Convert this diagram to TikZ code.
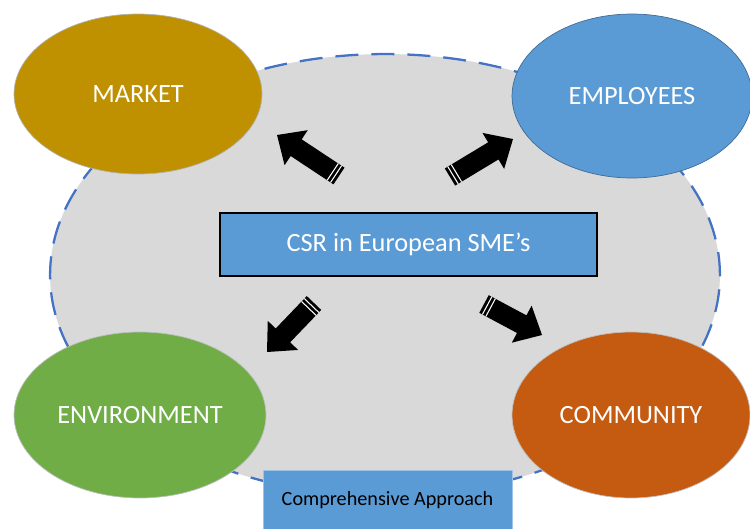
\documentclass[tikz,border=0pt]{standalone}
\usepackage{fontspec}
\setmainfont{Carlito}
\usepackage{tikz}
\usetikzlibrary{shapes.geometric}
\usetikzlibrary{calc}

\definecolor{csrgray}{HTML}{D9D9D9}
\definecolor{csrdash}{HTML}{4472C4}
\definecolor{csrgold}{HTML}{BF9000}
\definecolor{csrblue}{HTML}{5B9BD5}
\definecolor{csrgreen}{HTML}{70AD47}
\definecolor{csrorange}{HTML}{C55A11}

% block arrow with two stripes at the tail, from #1 to #2
\newcommand{\stripedarrow}[2]{%
  \coordinate (hb) at ($(#2)!0.46cm!(#1)$);
  \fill[black] ($(#1)!0.2cm!90:(#2)$) -- ($(hb)!0.2cm!90:(#2)$) -- ($(hb)!0.42cm!90:(#2)$)
    -- (#2) -- ($(hb)!0.42cm!-90:(#2)$) -- ($(hb)!0.2cm!-90:(#2)$) -- ($(#1)!0.2cm!-90:(#2)$) -- cycle;
  \coordinate (s1) at ($(#1)!0.07cm!(#2)$);
  \coordinate (s2) at ($(#1)!0.15cm!(#2)$);
  \draw[white, line width=0.6pt] ($(s1)!0.2cm!90:(#2)$) -- ($(s1)!0.2cm!-90:(#2)$);
  \draw[white, line width=0.6pt] ($(s2)!0.2cm!90:(#2)$) -- ($(s2)!0.2cm!-90:(#2)$);
}

\begin{document}
\begin{tikzpicture}[x=0.02cm, y=-0.02cm,
    bubble/.style={ellipse, inner sep=0pt, text=white, font=\fontsize{15}{18}\selectfont},
    csr box/.style={rectangle, inner sep=0pt, fill=csrblue}]
			\useasboundingbox (0,0) rectangle (750,528);
			\clip (0,0) rectangle (750,528);
			
			% Background
			\node[ellipse, inner sep=0pt, fill=csrgray, draw=csrdash, line width=1.3pt, dash pattern=on 0.46cm off 0.26cm,
			  minimum width=13.4cm, minimum height=8.84cm] (field) at (385,275) {};
			
			% Nodes
			\node[bubble, fill=csrgold, draw=gray!60, minimum width=4.96cm, minimum height=3.2cm] (market) at (138,94) {MARKET};
			\node[bubble, fill=csrblue, draw=csrblue!70!black, minimum width=4.8cm, minimum height=3.28cm] (employees) at (632,96) {EMPLOYEES};
			\node[bubble, fill=csrgreen, draw=gray!50, minimum width=5.04cm, minimum height=3.32cm] (environment) at (140,415) {ENVIRONMENT};
			\node[bubble, fill=csrorange, draw=gray!50, minimum width=4.76cm, minimum height=3.32cm] (community) at (631,415) {COMMUNITY};
			
			\node[csr box, draw=black, line width=1.2pt, minimum width=7.54cm, minimum height=1.26cm,
			  text=white, font=\fontsize{15}{18}\selectfont] (csr) at (408.5,244.5) {CSR in European SME’s};
			
			% Arrows
			\coordinate (mk tail) at (339,176);
			\coordinate (mk tip) at (277,135);
			\coordinate (em tail) at (450,177);
			\coordinate (em tip) at (513,139);
			\coordinate (en tail) at (314,303);
			\coordinate (en tip) at (267,352);
			\coordinate (co tail) at (484,304);
			\coordinate (co tip) at (542,335);
			
			\stripedarrow{mk tail}{mk tip}
			\stripedarrow{em tail}{em tip}
			\stripedarrow{en tail}{en tip}
			\stripedarrow{co tail}{co tip}
			
			\node[csr box, draw=csrblue!60!white, minimum width=4.98cm, minimum height=1.2cm,
			  font=\fontsize{11.5}{14}\selectfont] (approach) at (387.5,500) {Comprehensive Approach};
			
		\end{tikzpicture}
\end{document}
